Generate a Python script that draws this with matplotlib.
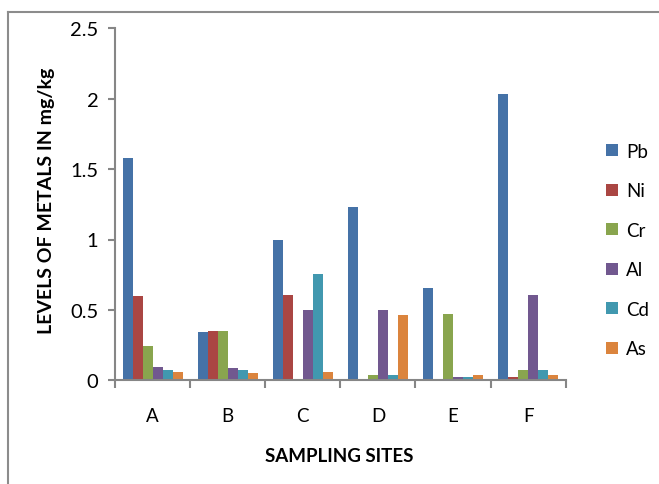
import matplotlib
matplotlib.use("Agg")
import matplotlib.pyplot as plt
from matplotlib.lines import Line2D
import numpy as np

plt.rcParams['font.family'] = ['Lato', 'DejaVu Sans']

sites = ["A", "B", "C", "D", "E", "F"]
metals = ["Pb", "Ni", "Cr", "Al", "Cd", "As"]
pb = [1.58, 0.343, 0.997, 1.231, 0.656, 2.034]
ni = [0.599, 0.350, 0.606, 0.009, 0.0, 0.024]
cr = [0.244, 0.350, 0.0, 0.038, 0.471, 0.073]
al = [0.095, 0.088, 0.50, 0.50, 0.024, 0.606]
cd = [0.073, 0.073, 0.755, 0.038, 0.024, 0.073]
as_ = [0.059, 0.052, 0.059, 0.464, 0.038, 0.038]
series = [pb, ni, cr, al, cd, as_]
colors = ["#4572A7", "#AA4643", "#89A54E", "#71588F", "#4198AF", "#DB843D"]

fig = plt.figure(figsize=(6.59, 4.85), dpi=100)
W, H = 659, 485
ax = fig.add_axes([115 / W, 1 - 381.3 / H, (565.7 - 115) / W, (381.3 - 29.3) / H])

x = np.arange(1, len(sites) + 1)
n = len(series)
bw = 0.8 / n
for i, (vals, c, m) in enumerate(zip(series, colors, metals)):
    ax.bar(x - 0.4 + bw * (i + 0.5), vals, width=bw, color=c, label=m, linewidth=0)

ax.set_xlim(0.5, len(sites) + 0.5)
ax.set_ylim(0, 2.5)
ax.set_yticks([0, 0.5, 1, 1.5, 2, 2.5])
ax.set_yticklabels(["0", "0.5", "1", "1.5", "2", "2.5"])
ax.set_xticks(np.arange(0.5, len(sites) + 1, 1))
ax.set_xticklabels([])
ax.set_xticks(x, minor=True)
ax.set_xticklabels(sites, minor=True)
ax.tick_params(axis='x', which='minor', length=0, pad=19.5, labelsize=13.5)
ax.tick_params(axis='x', which='major', length=6, width=1.5, color="#868686", direction='out')
ax.tick_params(axis='y', length=5, width=1.5, color="#868686", direction='out', labelsize=14.5, pad=7)

for s in ["top", "right"]:
    ax.spines[s].set_visible(False)
for s in ["left", "bottom"]:
    ax.spines[s].set_color("#868686")
    ax.spines[s].set_linewidth(1.5)

fig.text(47 / W, 1 - 201 / H, "LEVELS OF METALS IN mg/kg", fontsize=14, fontweight='bold',
         rotation=90, ha='center', va='center')
fig.text(339 / W, 1 - 461.7 / H, "SAMPLING SITES", fontsize=13.5, fontweight='bold',
         ha='center', va='baseline')

leg = fig.legend(loc='upper left', bbox_to_anchor=(589.5 / W, 1 - 127 / H), frameon=False,
                 fontsize=13.5, handlelength=0.64, handleheight=0.64, labelspacing=1.2,
                 handletextpad=0.4)

fig.add_artist(Line2D([8 / W, 8 / W], [0, 1 - 13 / H], color="#8c8c8c", lw=1.5, transform=fig.transFigure))
fig.add_artist(Line2D([8 / W, 1], [1 - 13 / H, 1 - 13 / H], color="#8c8c8c", lw=1.5, transform=fig.transFigure))

fig.savefig("out.png", dpi=100)
